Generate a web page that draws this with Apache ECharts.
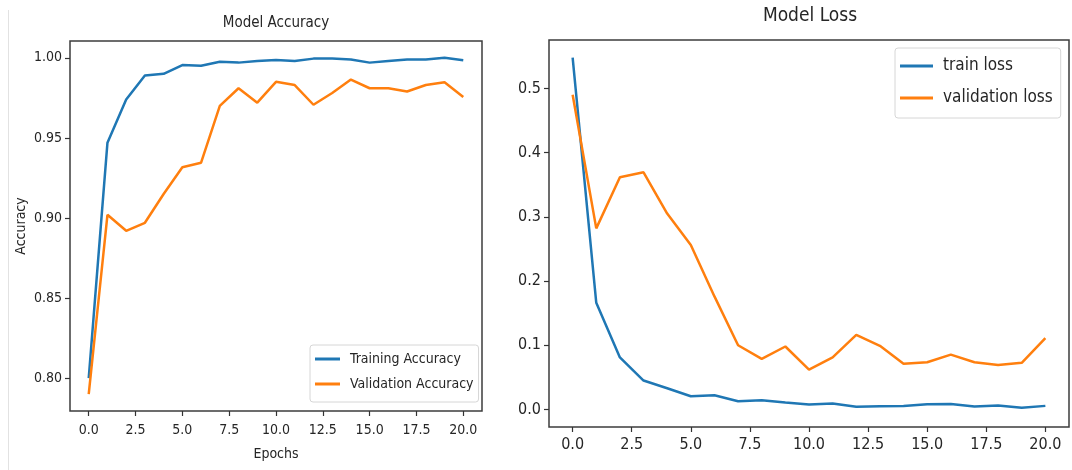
<!DOCTYPE html>
<html>
<head>
<meta charset="utf-8">
<script src="https://cdn.jsdelivr.net/npm/echarts@6/dist/echarts.min.js"></script>
<style>
  html, body { margin: 0; padding: 0; background: #ffffff; }
  #chart { width: 1072px; height: 470px; }
</style>
</head>
<body>
<div id="chart"></div>
<script>
const epochs = [0, 1, 2, 3, 4, 5, 6, 7, 8, 9, 10, 11, 12, 13, 14, 15, 16, 17, 18, 19, 20];
const trainAcc = [0.800, 0.947, 0.974, 0.989, 0.990, 0.9955, 0.995, 0.9975, 0.997, 0.998, 0.9987, 0.998, 0.9995, 0.9995, 0.999, 0.997, 0.998, 0.999, 0.999, 1.000, 0.9985];
const valAcc = [0.790, 0.902, 0.892, 0.897, 0.915, 0.9317, 0.9345, 0.970, 0.981, 0.972, 0.985, 0.983, 0.9707, 0.978, 0.9864, 0.981, 0.981, 0.979, 0.983, 0.9847, 0.9755];
const trainLoss = [0.548, 0.166, 0.081, 0.045, 0.033, 0.0205, 0.022, 0.0128, 0.0143, 0.0108, 0.0077, 0.0092, 0.004, 0.005, 0.0055, 0.008, 0.0085, 0.0045, 0.006, 0.0025, 0.0055];
const valLoss = [0.490, 0.282, 0.3616, 0.3693, 0.305, 0.256, 0.176, 0.100, 0.0787, 0.098, 0.062, 0.081, 0.116, 0.099, 0.071, 0.0735, 0.0853, 0.0735, 0.069, 0.0725, 0.111];
const xTicks = [0, 2.5, 5, 7.5, 10, 12.5, 15, 17.5, 20];
const accTicks = [0.80, 0.85, 0.90, 0.95, 1.00];
const lossTicks = [0.0, 0.1, 0.2, 0.3, 0.4, 0.5];

const BLUE = '#1f77b4';
const ORANGE = '#ff7f0e';
const COND = "'DejaVu Sans Condensed', 'DejaVu Sans', sans-serif";
const TXT = '#262626';

function pairs(ys) { return epochs.map((e, i) => [e, ys[i]]); }

function xAxisCfg(grid, fs, margin, name, nameGap) {
  return {
    type: 'value', gridIndex: grid, min: -1, max: 21,
    splitLine: { show: false },
    axisLine: { show: false, onZero: false },
    axisTick: { show: true, customValues: xTicks, length: 5, lineStyle: { color: '#333', width: 1.2 } },
    axisLabel: { customValues: xTicks, formatter: v => v.toFixed(1), fontSize: fs, fontFamily: COND, color: TXT, margin: margin },
    name: name, nameLocation: 'middle', nameGap: nameGap,
    nameTextStyle: { fontSize: 14, fontFamily: COND, color: TXT }
  };
}

const chart = echarts.init(document.getElementById('chart'), null, { renderer: 'canvas' });
chart.setOption({
  animation: false,
  backgroundColor: '#ffffff',
  title: [
    { text: 'Model Accuracy', left: 276, textAlign: 'center', top: 16, padding: 0,
      textStyle: { fontSize: 15, fontWeight: 'normal', fontFamily: COND, color: TXT } },
    { text: 'Model Loss', left: 810, textAlign: 'center', top: 7, padding: 0,
      textStyle: { fontSize: 19, fontWeight: 'normal', fontFamily: COND, color: TXT } }
  ],
  graphic: [
    { type: 'line', shape: { x1: 8.5, y1: 10, x2: 8.5, y2: 470 }, style: { stroke: '#e2e2e2', lineWidth: 1 }, silent: true }
  ],
  grid: [
    { left: 70, top: 41, width: 412, height: 370, show: true, borderColor: '#3c3c3c', borderWidth: 1.5, backgroundColor: 'transparent' },
    { left: 549, top: 40, width: 520, height: 387, show: true, borderColor: '#3c3c3c', borderWidth: 1.5, backgroundColor: 'transparent' }
  ],
  xAxis: [
    xAxisCfg(0, 14, 12, 'Epochs', 36),
    xAxisCfg(1, 16, 10, '', 30)
  ],
  yAxis: [
    {
      type: 'value', gridIndex: 0, min: 0.7795, max: 1.0105,
      splitLine: { show: false }, axisLine: { show: false, onZero: false },
      axisTick: { show: true, customValues: accTicks, length: 5, lineStyle: { color: '#333', width: 1.2 } },
      axisLabel: { customValues: accTicks, formatter: v => v.toFixed(2), fontSize: 14, fontFamily: COND, color: TXT, margin: 8 },
      name: 'Accuracy', nameLocation: 'middle', nameRotate: 90, nameGap: 42,
      nameTextStyle: { fontSize: 14, fontFamily: COND, color: TXT }
    },
    {
      type: 'value', gridIndex: 1, min: -0.0274, max: 0.5754,
      splitLine: { show: false }, axisLine: { show: false, onZero: false },
      axisTick: { show: true, customValues: lossTicks, length: 5, lineStyle: { color: '#333', width: 1.2 } },
      axisLabel: { customValues: lossTicks, formatter: v => v.toFixed(1), fontSize: 16, fontFamily: COND, color: TXT, margin: 8 }
    }
  ],
  legend: [
    {
      data: ['Training Accuracy', 'Validation Accuracy'],
      orient: 'vertical', left: 310, top: 345,
      icon: 'rect', itemWidth: 25, itemHeight: 3, itemGap: 9,
      padding: [6, 5, 10, 5],
      selectedMode: false,
      borderColor: '#d6d6d6', borderWidth: 1, borderRadius: 3,
      backgroundColor: 'rgba(255,255,255,0.8)',
      textStyle: { fontSize: 14, lineHeight: 16, fontFamily: COND, color: TXT, padding: [0, 0, 0, 5] }
    },
    {
      data: ['train loss', 'validation loss'],
      orient: 'vertical', left: 895, top: 48,
      icon: 'rect', itemWidth: 33, itemHeight: 3, itemGap: 12,
      padding: [8, 8, 10, 5],
      selectedMode: false,
      borderColor: '#d6d6d6', borderWidth: 1, borderRadius: 3,
      backgroundColor: 'rgba(255,255,255,0.8)',
      textStyle: { fontSize: 17, lineHeight: 20, fontFamily: COND, color: TXT, padding: [0, 0, 0, 5] }
    }
  ],
  series: [
    { name: 'Training Accuracy', type: 'line', xAxisIndex: 0, yAxisIndex: 0, data: pairs(trainAcc),
      showSymbol: false, symbol: 'none', lineStyle: { color: BLUE, width: 2.5 }, itemStyle: { color: BLUE } },
    { name: 'Validation Accuracy', type: 'line', xAxisIndex: 0, yAxisIndex: 0, data: pairs(valAcc),
      showSymbol: false, symbol: 'none', lineStyle: { color: ORANGE, width: 2.5 }, itemStyle: { color: ORANGE } },
    { name: 'train loss', type: 'line', xAxisIndex: 1, yAxisIndex: 1, data: pairs(trainLoss),
      showSymbol: false, symbol: 'none', lineStyle: { color: BLUE, width: 2.5 }, itemStyle: { color: BLUE } },
    { name: 'validation loss', type: 'line', xAxisIndex: 1, yAxisIndex: 1, data: pairs(valLoss),
      showSymbol: false, symbol: 'none', lineStyle: { color: ORANGE, width: 2.5 }, itemStyle: { color: ORANGE } }
  ]
});
</script>
</body>
</html>
